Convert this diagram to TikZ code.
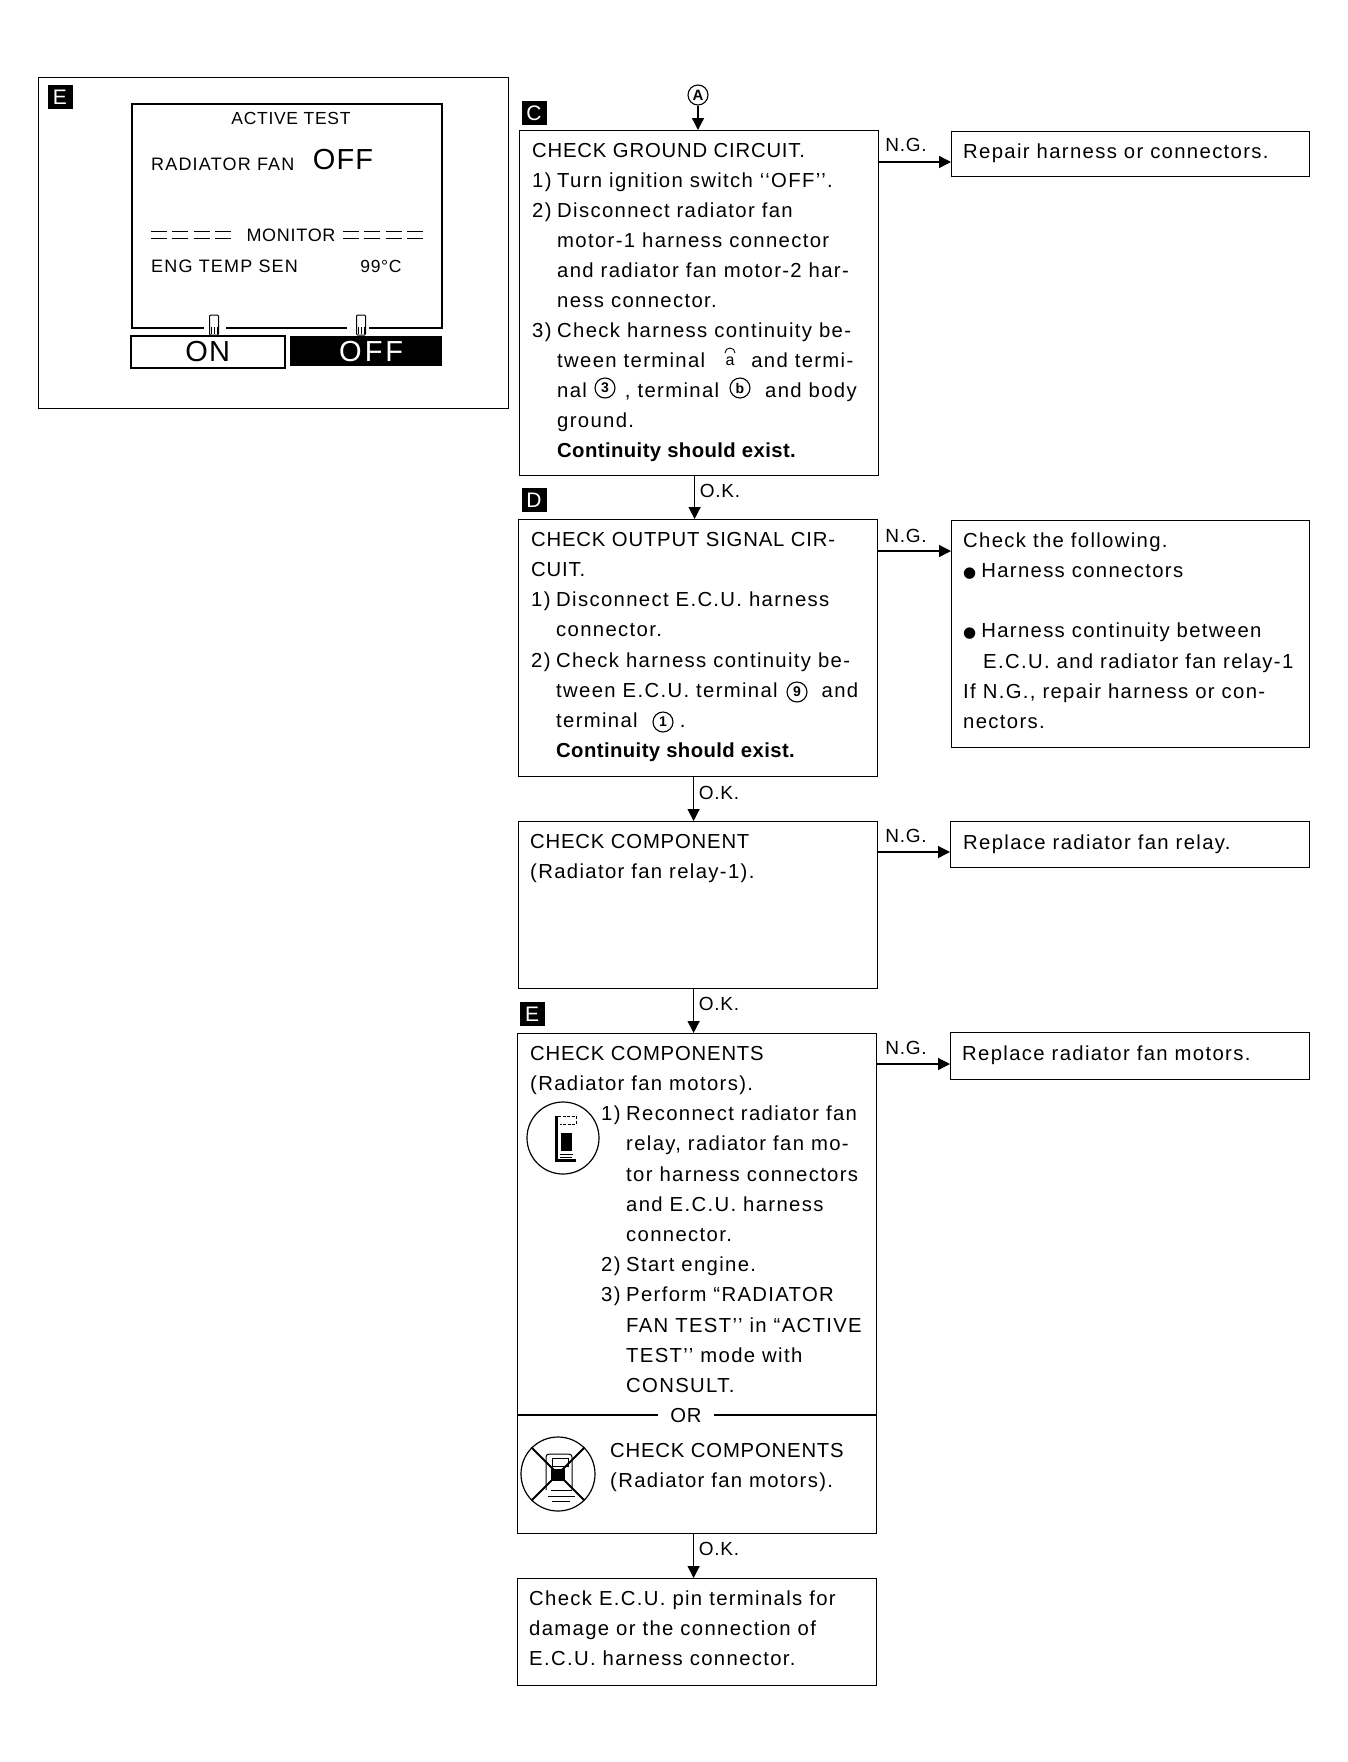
\documentclass[tikz,border=0pt]{standalone}
\usepackage{fontspec}
\setmainfont[LetterSpace=6.6,BoldFeatures={LetterSpace=2}]{Liberation Sans}
\newfontfamily\capsf[LetterSpace=4]{Liberation Sans}
\newfontfamily\dv{DejaVu Sans}
\usetikzlibrary{arrows.meta}
\newcommand{\hg}[2]{\makebox[25pt][l]{#1}#2}
\newcommand{\ind}[1]{\hspace*{25pt}#1}
\newcommand{\qc}{'{}'}
\tikzset{
  x=1pt,y=-1pt,
  flowbox/.style={draw=black,line width=1.2pt,rectangle,anchor=north west,inner sep=0pt},
  body/.style={anchor=north west,inner sep=0pt,align=left,font=\fontsize{20.3}{30.2}\selectfont},
  lab/.style={inner sep=0pt,font=\capsf\fontsize{19}{22}\selectfont},
  arr/.style={line width=1.3pt,-{Triangle[length=12pt,width=12pt]}},
  badge/.style={fill=black,text=white,minimum width=25pt,minimum height=24pt,inner sep=0pt,font=\capsf\fontsize{21}{22}\selectfont},
  scr/.style={inner sep=0pt,font=\fontsize{18}{20}\selectfont},
  hand/.style={draw=black,fill=white,line width=1pt,minimum width=9pt,minimum height=20pt,inner sep=0pt,rounded corners=1pt},
  dashline/.style={line width=1pt,dash pattern=on 16pt off 5.3pt},
  term/.style={draw=black,line width=1.1pt,circle,minimum size=20pt,inner sep=0pt,font=\fontsize{14}{14}\selectfont\bfseries}
}
\begin{document}
\begin{tikzpicture}
\useasboundingbox (0,0) rectangle (1348,1762);
% left panel
\node[draw=black,line width=1.8pt,rectangle,anchor=north west,minimum width=470pt,minimum height=331pt,inner sep=0pt] (panel) at (37.5,76.5) {};
\node[badge] (bp) at (60,97) {E};
\node[draw=black,line width=2.4pt,rectangle,anchor=north west,minimum width=310pt,minimum height=224pt,inner sep=0pt] (screen) at (131,102.5) {};
\node[scr,font=\capsf\fontsize{17.5}{20}\selectfont] (t1) at (291,118) {ACTIVE TEST};
\node[scr,anchor=west] (t2) at (151,164) {RADIATOR FAN};
\node[inner sep=0pt,font=\capsf\fontsize{29}{30}\selectfont] (t3) at (343,160) {OFF};
\node[scr,font=\capsf\fontsize{18}{20}\selectfont] (t4) at (291,235) {MONITOR};
\draw[dashline] (151,231) -- (231,231);
\draw[dashline] (151,238) -- (231,238);
\draw[dashline] (343,231) -- (424,231);
\draw[dashline] (343,238) -- (424,238);
\node[scr,anchor=west] (t5) at (151,266) {ENG TEMP SEN};
\node[scr,font=\capsf\fontsize{17.5}{20}\selectfont] (t6) at (381,266) {99°C};
\node[draw=black,line width=1.6pt,rectangle,anchor=north west,minimum width=154pt,minimum height=32pt,inner sep=0pt,font=\capsf\fontsize{29}{30}\selectfont] (on) at (130,335) {ON};
\node[fill=black,text=white,rectangle,anchor=north west,minimum width=152pt,minimum height=30pt,inner sep=0pt,font=\capsf\fontsize{29}{30}\selectfont] (off) at (290,336) {\hspace*{10pt}O\hspace{3pt}F\hspace{3pt}F};
\fill[white] (204,320) rectangle (226,334);
\fill[white] (347,320) rectangle (369,334);
\node[hand] (h1) at (214,325) {};
\node[hand] (h2) at (361,325) {};
\draw[line width=.8pt] (211,327) -- (211,334) (214,327) -- (214,334) (217,327) -- (217,334);
\draw[line width=.8pt] (358,327) -- (358,334) (361,327) -- (361,334) (364,327) -- (364,334);
% flow boxes
\node[flowbox,minimum width=359pt,minimum height=345pt] (c) at (519,130) {};
\node[flowbox,minimum width=359pt,minimum height=257pt] (d) at (518,519) {};
\node[flowbox,minimum width=359pt,minimum height=167pt] (f) at (518,821) {};
\node[flowbox,minimum width=359pt,minimum height=500pt] (e) at (517,1033) {};
\node[flowbox,minimum width=359pt,minimum height=107pt] (g) at (517,1578) {};
\node[flowbox,minimum width=358pt,minimum height=45pt] (rc) at (951,131) {};
\node[flowbox,minimum width=358pt,minimum height=227pt] (rd) at (951,520) {};
\node[flowbox,minimum width=359pt,minimum height=46pt] (rf) at (950,821) {};
\node[flowbox,minimum width=359pt,minimum height=47pt] (re) at (950,1032) {};
% badges
\node[badge] (bc) at (534,113) {C};
\node[badge] (bd) at (534,500) {D};
\node[badge] (be) at (532,1014) {E};
% start
\node[term,font=\fontsize{15}{15}\selectfont\bfseries] (a) at (698,95) {A};
% text
\node[body,font=\fontsize{20.3}{30}\selectfont] (tc) at (532,136) {\strut{\capsf CHECK GROUND CIRCUIT.}\\
\hg{1)}{Turn ignition switch `{}`OFF\qc.}\\
\hg{2)}{Disconnect radiator fan}\\
\ind{motor-1 harness connector}\\
\ind{and radiator fan motor-2 har-}\\
\ind{ness connector.}\\
\hg{3)}{Check harness continuity be-}\\
\ind{tween terminal\hspace{46pt}and termi-}\\
\ind{nal\hspace{38pt}, terminal\hspace{46pt}and body}\\
\ind{ground.}\\
\ind{\textbf{Continuity should exist.}}};
\node[term,font=\fontsize{16}{16}\selectfont,draw=none] (ta) at (730,361) {a};
\draw[line width=.9pt] (725,353) arc (180:0:5pt);
\node[term] (t3b) at (605,388) {3};
\node[term] (tb) at (740,388) {b};
\node[body] (td) at (531,525) {\strut{\capsf CHECK OUTPUT SIGNAL CIR-}\\
{\capsf CUIT.}\\
\hg{1)}{Disconnect E.C.U. harness}\\
\ind{connector.}\\
\hg{2)}{Check harness continuity be-}\\
\ind{tween E.C.U. terminal\hspace{44pt}and}\\
\ind{terminal\hspace{42pt}.}\\
\ind{\textbf{Continuity should exist.}}};
\node[term] (t9) at (797,692) {9};
\node[term] (t1b) at (663,722) {1};
\node[body] (tf) at (530,827) {\strut{\capsf CHECK COMPONENT}\\(Radiator fan relay-1).};
\node[body] (te) at (530,1039) {\strut{\capsf CHECK COMPONENTS}\\
(Radiator fan motors).\\
\hspace*{71pt}\hg{1)}{Reconnect radiator fan}\\
\hspace*{71pt}\ind{relay, radiator fan mo-}\\
\hspace*{71pt}\ind{tor harness connectors}\\
\hspace*{71pt}\ind{and E.C.U. harness}\\
\hspace*{71pt}\ind{connector.}\\
\hspace*{71pt}\hg{2)}{Start engine.}\\
\hspace*{71pt}\hg{3)}{Perform ``RADIATOR}\\
\hspace*{71pt}\ind{FAN TEST\qc\ in ``ACTIVE}\\
\hspace*{71pt}\ind{TEST\qc\ mode with}\\
\hspace*{71pt}\ind{CONSULT.}};
\node[body] (te2) at (610,1436) {\strut{\capsf CHECK COMPONENTS}\\(Radiator fan motors).};
\node[body] (tg) at (529,1584) {\strut Check E.C.U. pin terminals for\\damage or the connection of\\E.C.U. harness connector.};
\node[body] (trc) at (963,137) {\strut Repair harness or connectors.};
\node[body] (trd) at (963,526) {\strut Check the following.\\
{\dv\fontsize{15}{15}\selectfont ●}\hspace{5pt}Harness connectors\\
\strut\\
{\dv\fontsize{15}{15}\selectfont ●}\hspace{5pt}Harness continuity between\\
\hspace*{20pt}E.C.U. and radiator fan relay-1\\
If N.G., repair harness or con-\\
nectors.};
\node[body] (trf) at (963,828) {\strut Replace radiator fan relay.};
\node[body] (tre) at (962,1039) {\strut Replace radiator fan motors.};
% OR divider
\node[lab,font=\capsf\fontsize{20.3}{24}\selectfont] (or) at (686,1415) {OR};
\draw[line width=1.2pt] (e.west |- or) -- ([xshift=-12pt]or.west);
\draw[line width=1.2pt] ([xshift=12pt]or.east) -- (e.east |- or);
% icons
\node[draw=black,line width=1.2pt,circle,minimum size=72pt,inner sep=0pt] (i1) at (563,1138) {};
\draw[line width=3pt] (556,1116) -- (556,1160) -- (576,1160);
\draw[line width=.8pt,dash pattern=on 3pt off 1.5pt] (558,1116) -- (576,1116) -- (576,1124) -- (560,1124);
\fill[black] (561,1133) rectangle (572,1151);
\draw[line width=.8pt] (560,1154) -- (573,1154) (560,1157) -- (572,1157);
\node[draw=black,line width=1.2pt,circle,minimum size=74pt,inner sep=0pt] (i2) at (558,1474) {};
\draw[line width=1pt,rounded corners=3pt] (546,1490) -- (546,1454) -- (572,1454) -- (572,1490);
\draw[line width=.8pt] (552,1458) rectangle (568,1466);
\fill[black] (551,1469) rectangle (565,1481);
\draw[line width=.8pt] (551,1490) -- (572,1490) (548,1496) -- (575,1496) (552,1501) -- (570,1501);
\draw[line width=2pt] (i2.north west) -- (i2.south east);
\draw[line width=2pt] (i2.north east) -- (i2.south west);
% connectors
\draw[arr] (a.south) -- (a |- c.north);
\draw[arr] ([xshift=-4.5pt]c.south) -- ([xshift=-3.5pt]d.north);
\draw[arr] ([xshift=-4.5pt]d.south) -- ([xshift=-4.5pt]f.north);
\draw[arr] ([xshift=-4.5pt]f.south) -- ([xshift=-3.5pt]e.north);
\draw[arr] ([xshift=-3.5pt]e.south) -- ([xshift=-3.5pt]g.north);
\draw[arr] ([yshift=-32pt]c.north east) -- ([yshift=-32pt]c.north east -| rc.west);
\draw[arr] ([yshift=-32pt]d.north east) -- ([yshift=-32pt]d.north east -| rd.west);
\draw[arr] ([yshift=-31pt]f.north east) -- ([yshift=-31pt]rf.north west);
\draw[arr] ([yshift=-31pt]e.north east) -- ([yshift=-31pt]e.north east -| re.west);
% labels
\node[lab] (l1) at (906,145) {N.G.};
\node[lab] (l2) at (906,536) {N.G.};
\node[lab] (l3) at (906,836) {N.G.};
\node[lab] (l4) at (906,1048) {N.G.};
\node[lab] (o1) at (720,491) {O.K.};
\node[lab] (o2) at (719,793) {O.K.};
\node[lab] (o3) at (719,1004) {O.K.};
\node[lab] (o4) at (719,1549) {O.K.};
\end{tikzpicture}
\end{document}
